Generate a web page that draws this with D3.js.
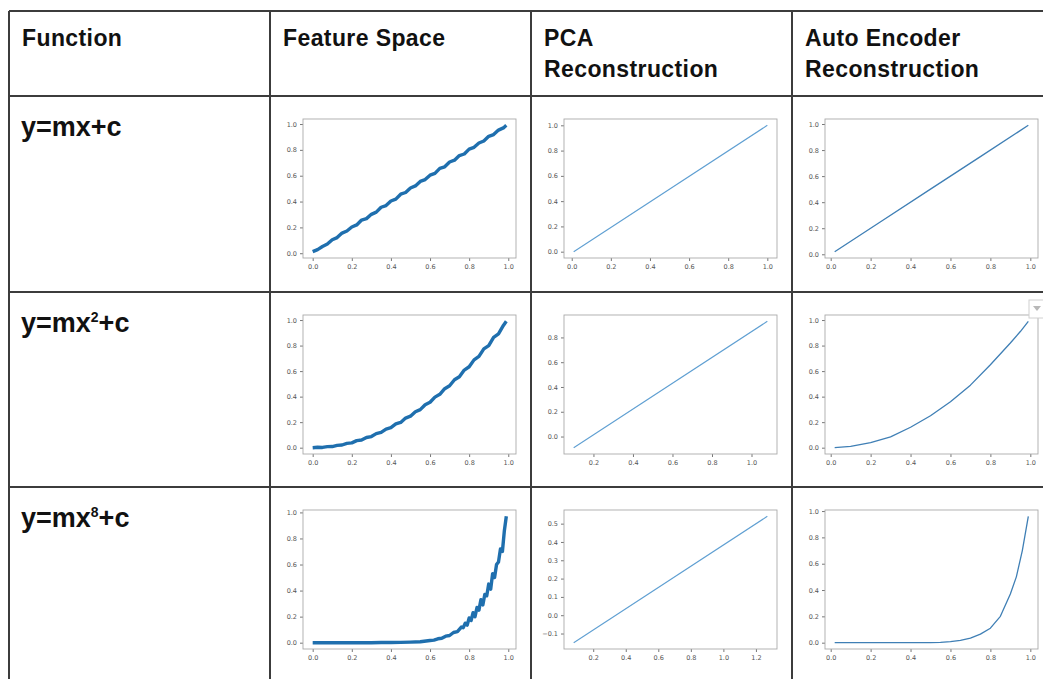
<!DOCTYPE html>
<html>
<head>
<meta charset="utf-8">
<script src="https://cdn.jsdelivr.net/npm/d3@7"></script>
<style>
  body { margin: 0; background: #fff; }
  svg { display: block; }
  .tick text { font-family: "DejaVu Sans", sans-serif; fill: #555; }
  .tick line { stroke: #777; }
</style>
</head>
<body>
<script>
// table text
var headers = [["Function"], ["Feature Space"], ["PCA", "Reconstruction"], ["Auto Encoder", "Reconstruction"]];
var funcBase = ["y=mx", "y=mx", "y=mx"];
var funcPower = ["", "2", "8"];
var funcTail = ["+c", "+c", "+c"];

// feature space (noisy samples)
var featureX = [0.00,0.025,0.05,0.075,0.10,0.125,0.15,0.175,0.20,0.225,0.25,0.275,0.30,0.325,0.35,0.375,0.40,0.425,0.45,0.475,
  0.50,0.525,0.55,0.575,0.60,0.625,0.65,0.675,0.70,0.725,0.75,0.775,0.80,0.825,0.85,0.875,0.90,0.925,0.95,0.975,0.99];
var featLinear = [0.012,0.028,0.052,0.071,0.104,0.121,0.156,0.172,0.203,0.219,0.257,0.268,0.301,0.318,0.356,0.369,0.404,0.419,0.457,0.47,
  0.505,0.521,0.556,0.57,0.604,0.618,0.657,0.669,0.706,0.72,0.756,0.768,0.806,0.82,0.853,0.869,0.905,0.918,0.953,0.97,0.99];
var featSquare = [0.00,0.003,0.002,0.008,0.009,0.018,0.021,0.034,0.038,0.055,0.06,0.08,0.087,0.11,0.12,0.146,0.157,0.186,0.198,0.232,
  0.247,0.281,0.298,0.336,0.356,0.396,0.418,0.462,0.485,0.532,0.556,0.608,0.634,0.688,0.715,0.774,0.80,0.865,0.892,0.958,0.99];
var eighthX = [0.00,0.05,0.10,0.15,0.20,0.25,0.30,0.35,0.40,0.45,0.50,0.55,0.60,
  0.62,0.64,0.66,0.68,0.70,0.72,0.74,0.76,
  0.77,0.78,0.79,0.80,0.81,0.82,0.83,0.84,0.85,0.86,0.87,0.88,0.89,0.90,0.91,0.92,0.93,0.94,0.95,0.96,0.97,0.98,0.99];
var featEighth = [0,0,0,0,0,0,0,0.001,0.001,0.002,0.004,0.007,0.017,
  0.02,0.03,0.034,0.05,0.055,0.078,0.085,0.12,
  0.115,0.15,0.135,0.19,0.17,0.23,0.20,0.27,0.25,0.33,0.29,0.37,0.36,0.45,0.41,0.53,0.50,0.60,0.62,0.72,0.70,0.86,0.97];

// PCA reconstructions
var pcaLinX = [0.01, 1.00], pcaLinY = [0.00, 1.00];
var pcaSqX = [0.10, 1.08], pcaSqY = [-0.09, 0.93];
var pcaEigX = [0.08, 1.27], pcaEigY = [-0.15, 0.54];

// auto encoder reconstructions
var aeLinX = [0.02, 0.25, 0.5, 0.75, 0.99], aeLinY = [0.02, 0.25, 0.5, 0.75, 0.99];
var aeSqX = [0.02,0.10,0.20,0.30,0.40,0.50,0.60,0.70,0.80,0.90,0.95,0.99];
var aeSqY = [0.00,0.01,0.04,0.085,0.16,0.25,0.36,0.49,0.65,0.82,0.91,0.99];
var aeEigX = [0.02,0.10,0.20,0.30,0.40,0.50,0.55,0.60,0.65,0.70,0.75,0.80,0.85,0.90,0.93,0.96,0.99];
var aeEigY = [0,0,0,0,0,0.001,0.003,0.008,0.018,0.035,0.065,0.11,0.20,0.37,0.50,0.70,0.96];

// tick values
var unitTicks = [0.0, 0.2, 0.4, 0.6, 0.8, 1.0];
var pcaSqXTicks = [0.2, 0.4, 0.6, 0.8, 1.0];
var pcaSqYTicks = [0.0, 0.2, 0.4, 0.6, 0.8];
var pcaEigXTicks = [0.2, 0.4, 0.6, 0.8, 1.0, 1.2];
var pcaEigYTicks = [-0.1, 0.0, 0.1, 0.2, 0.3, 0.4, 0.5];

var W = 1043, H = 679;
var colX = [9, 270, 531, 792, 1060];
var rowY = [11, 96, 292, 487, 700];

var svg = d3.select("body").append("svg")
  .attr("width", W)
  .attr("height", H);

var plots = [
  {row: 0, col: 1, x: featureX, y: featLinear, kind: "feat", xt: unitTicks, yt: unitTicks},
  {row: 0, col: 2, x: pcaLinX, y: pcaLinY, kind: "pca", xt: unitTicks, yt: unitTicks},
  {row: 0, col: 3, x: aeLinX, y: aeLinY, kind: "ae", xt: unitTicks, yt: unitTicks},
  {row: 1, col: 1, x: featureX, y: featSquare, kind: "feat", xt: unitTicks, yt: unitTicks},
  {row: 1, col: 2, x: pcaSqX, y: pcaSqY, kind: "pca", xt: pcaSqXTicks, yt: pcaSqYTicks},
  {row: 1, col: 3, x: aeSqX, y: aeSqY, kind: "ae", xt: unitTicks, yt: unitTicks},
  {row: 2, col: 1, x: eighthX, y: featEighth, kind: "feat", xt: unitTicks, yt: unitTicks},
  {row: 2, col: 2, x: pcaEigX, y: pcaEigY, kind: "pca", xt: pcaEigXTicks, yt: pcaEigYTicks},
  {row: 2, col: 3, x: aeEigX, y: aeEigY, kind: "ae", xt: unitTicks, yt: unitTicks}
];

var styles = {
  feat: {stroke: "#1f6fae", width: 3.4},
  pca: {stroke: "#5f9fd2", width: 1.1},
  ae: {stroke: "#3f7fb5", width: 1.3}
};

var fmt = d3.format(".1f");

// matplotlib style auto margins
function padded(vals) {
  var e = d3.extent(vals), m = (e[1] - e[0]) * 0.05;
  return [e[0] - m, e[1] + m];
}

plots.forEach(function(p) {
  var left = colX[p.col] + 33, top = rowY[p.row + 1] + 23;
  var pw = 213, ph = 139;

  var x = d3.scaleLinear().domain(padded(p.x)).range([0, pw]);
  var y = d3.scaleLinear().domain(padded(p.y)).range([ph, 0]);

  var g = svg.append("g")
    .attr("transform", "translate(" + left + "," + top + ")");

  g.append("g")
    .attr("transform", "translate(0," + ph + ")")
    .call(d3.axisBottom(x).tickValues(p.xt).tickFormat(fmt).tickSize(3).tickPadding(3))
    .call(function(a) { a.select(".domain").remove(); })
    .selectAll("text").style("font-size", "6.5px");

  g.append("g")
    .call(d3.axisLeft(y).tickValues(p.yt).tickFormat(fmt).tickSize(3).tickPadding(3))
    .call(function(a) { a.select(".domain").remove(); })
    .selectAll("text").style("font-size", "6.5px");

  var pts = p.x.map(function(v, i) { return [v, p.y[i]]; });
  var st = styles[p.kind];

  g.append("path")
    .datum(pts)
    .attr("d", d3.line().x(function(d) { return x(d[0]); }).y(function(d) { return y(d[1]); }))
    .attr("fill", "none")
    .attr("stroke", st.stroke)
    .attr("stroke-width", st.width)
    .attr("stroke-linejoin", "round");

  g.append("rect")
    .attr("width", pw)
    .attr("height", ph)
    .attr("fill", "none")
    .attr("stroke", "#aaa")
    .attr("stroke-width", 0.9);
});

// table grid
var grid = svg.append("g")
  .attr("stroke", "#3c3c3c")
  .attr("stroke-width", 2);

rowY.forEach(function(yy) {
  grid.append("line").attr("x1", colX[0]).attr("x2", W + 10).attr("y1", yy).attr("y2", yy);
});
colX.forEach(function(xx) {
  grid.append("line").attr("x1", xx).attr("x2", xx).attr("y1", rowY[0]).attr("y2", H + 10);
});

// header labels
headers.forEach(function(lines, i) {
  var t = svg.append("text")
    .attr("x", colX[i] + 13)
    .attr("y", 46)
    .attr("font-family", "Liberation Sans, Arial, sans-serif")
    .attr("font-weight", "bold")
    .attr("font-size", 23)
    .attr("letter-spacing", 0.4)
    .attr("fill", "#111");
  lines.forEach(function(l, j) {
    t.append("tspan").attr("x", colX[i] + 13).attr("dy", j === 0 ? 0 : 31).text(l);
  });
});

// function labels
funcBase.forEach(function(b, i) {
  var t = svg.append("text")
    .attr("x", colX[0] + 12)
    .attr("y", rowY[i + 1] + 40)
    .attr("font-family", "Liberation Sans, Arial, sans-serif")
    .attr("font-weight", "bold")
    .attr("font-size", 27)
    .attr("fill", "#111");
  t.append("tspan").text(b);
  if (funcPower[i]) {
    t.append("tspan").attr("dy", -10).attr("font-size", 14).text(funcPower[i]);
    t.append("tspan").attr("dy", 10).text(funcTail[i]);
  } else {
    t.append("tspan").text(funcTail[i]);
  }
});

// small image menu handle at the right edge
var handle = svg.append("g").attr("transform", "translate(1029,300)");
handle.append("rect").attr("width", 18).attr("height", 18)
  .attr("fill", "#fff").attr("stroke", "#d0d0d0");
handle.append("path").attr("d", "M4,6 L12,6 L8,11 Z").attr("fill", "#b8b8b8");
</script>
</body>
</html>
